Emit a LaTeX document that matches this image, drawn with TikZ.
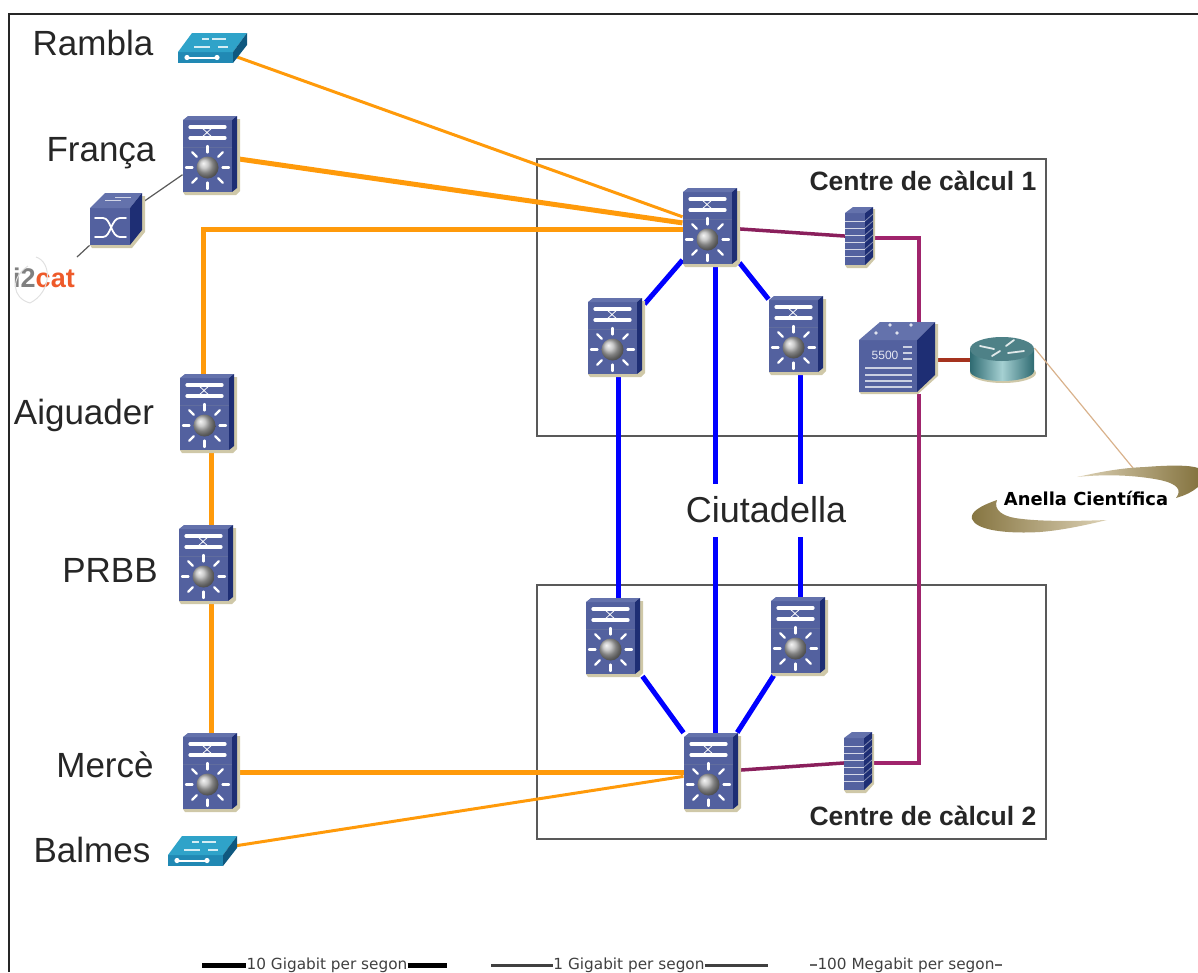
\documentclass[tikz,border=0pt]{standalone}
\usepackage{fontspec}
\setmainfont{Liberation Sans}
\newfontfamily\legendfont{DejaVu Sans}
\usetikzlibrary{positioning,backgrounds,calc}
\definecolor{chassis}{HTML}{53619F}
\definecolor{chassistop}{HTML}{6472AC}
\definecolor{chassisside}{HTML}{1E2E74}
\definecolor{dropshadow}{HTML}{CFC8A8}
\definecolor{wgfront}{HTML}{2189B4}
\definecolor{wgtop}{HTML}{2FA3C9}
\definecolor{wgside}{HTML}{0F587F}
\definecolor{linkorange}{HTML}{FF9A0A}
\definecolor{linkmagenta}{HTML}{A0246C}
\definecolor{linkdark}{HTML}{8A1F5C}
\definecolor{linkred}{HTML}{A5321E}
\definecolor{catorange}{HTML}{EE5A2A}
\definecolor{routerteal}{HTML}{2F6B72}
\definecolor{routerlight}{HTML}{A5D0D2}
\definecolor{swoosh}{HTML}{857440}
\definecolor{swooshlight}{HTML}{DDD2B6}
\tikzset{
    hitbox/.style={% Invisible box that connectors attach to
        rectangle,
        inner sep=0pt,
        outer sep=0pt,
        },
    whiteline/.style={draw=white, line width=2.4pt, line cap=round},
    % Layer 3 switch
    lthree/.pic={
        \node [hitbox, minimum width=57, minimum height=79] (-n) at (0,0) {};
        \fill [dropshadow] (26,-36) -- (29,-36) -- (29,36) -- (25,40) -- (-26,40) -- (-28,37) -- (21,37) -- cycle;
        \fill [chassis] (-28,-35) rectangle (21,37);
        \fill [chassistop] (-28,-35) -- (-23,-39) -- (26,-39) -- (21,-35) -- cycle;
        \fill [chassisside] (21,-35) -- (26,-39) -- (26,33) -- (21,37) -- cycle;
        \draw [chassisside!70, line width=0.8pt] (-28,-8) -- (21,-8);
        \draw [whiteline, line width=3.2pt] (-21,-28) -- (14,-28);
        \draw [whiteline, line width=3.2pt] (-21,-17) -- (14,-17);
        \draw [white, line width=0.8pt] (-14,-28) .. controls (-4,-28) and (-4,-17) .. (6,-17);
        \draw [white, line width=0.8pt] (-14,-17) .. controls (-4,-17) and (-4,-28) .. (6,-28);
        \foreach \a in {0,45,...,315} {
            \draw [whiteline, line width=2.3pt] (-3.5,12.5) ++(\a:15) -- ++(\a:6.5);
        }
        \shade [ball color=gray!55!white] (-3.5,12.5) circle (11);
    },
    % Workgroup switch
    wgswitch/.pic={
        \node [hitbox, minimum width=69, minimum height=31] (-n) at (0,0) {};
        \fill [wgfront] (-34,4) rectangle (21,15);
        \fill [wgtop] (-34,4) -- (-20,-15) -- (35,-15) -- (21,4) -- cycle;
        \fill [wgside] (21,4) -- (35,-15) -- (35,-3) -- (21,15) -- cycle;
        \draw [white, line width=2pt] (-27,9.5) -- (7,9.5);
        \fill [white] (-25,9.5) circle (2.6) (5,9.5) circle (2.6);
        \draw [white!80!wgtop, line width=2.2pt] (-18,-1) -- (-2,-1) (0,-9) -- (14,-9);
        \draw [white!80!wgtop, line width=2.2pt] (-10,-9) -- (-3,-9) (6,-1) -- (16,-1);
    },
    % Crossbar switch
    xswitch/.pic={
        \node [hitbox, minimum width=55, minimum height=55] (-n) at (0,0) {};
        \fill [dropshadow] (25,-24) -- (28,-24) -- (28,12) -- (15,28) -- (-25,28) -- (-27,25) -- (13,25) -- cycle;
        \fill [chassis] (-27,-12) rectangle (13,25);
        \fill [chassistop] (-27,-12) -- (-12,-27) -- (25,-27) -- (13,-12) -- cycle;
        \fill [chassisside] (13,-12) -- (25,-27) -- (25,10) -- (13,25) -- cycle;
        \draw [whiteline, line width=1.8pt] (-22,-2) -- (-14,-2) .. controls (-6,-2) and (-6,17) .. (3,17) -- (9,17);
        \draw [whiteline, line width=1.8pt] (-22,17) -- (-14,17) .. controls (-6,17) and (-6,-2) .. (3,-2) -- (9,-2);
        \draw [white!70!chassistop, line width=1pt] (-12,-20) -- (4,-20) (-2,-23) -- (14,-23);
    },
    % Firewall
    firewall/.pic={
        \node [hitbox, minimum width=28, minimum height=61] (-n) at (0,0) {};
        \fill [dropshadow] (14,-28) -- (16,-28) -- (16,22) -- (8,31) -- (-12,31) -- (-14,28) -- (6,28) -- cycle;
        \fill [chassis] (-14,-24) rectangle (6,28);
        \fill [chassistop] (-14,-24) -- (-6,-30) -- (14,-30) -- (6,-24) -- cycle;
        \fill [chassisside] (6,-24) -- (14,-30) -- (14,20) -- (6,28) -- cycle;
        \foreach \y in {-16,-9,...,24} {
            \draw [white!75!chassis, line width=0.8pt] (-14,\y) -- (6,\y);
            \draw [white!45!chassisside, line width=0.8pt] (6,\y) -- (14,\y-7);
        }
    },
    % Big chassis with the model number
    bigchassis/.pic={
        \node [hitbox, minimum width=79, minimum height=71] (-n) at (0,0) {};
        \fill [dropshadow] (37,-34) -- (40,-34) -- (40,18) -- (20,36) -- (-37,36) -- (-39,34) -- (19,34) -- cycle;
        \fill [chassis] (-39,-18) rectangle (19,34);
        \fill [chassistop] (-39,-18) -- (-18,-36) -- (37,-36) -- (19,-18) -- cycle;
        \fill [chassisside] (19,-18) -- (37,-36) -- (37,17) -- (19,34) -- cycle;
        \node [font=\fontsize{12}{13}\selectfont, text=white!85!chassis, inner sep=0pt] (-model) at (-13,-3) {5500};
        \foreach \y in {10,17,23,29} {
            \draw [white!70!chassis, line width=1.1pt] (-33,\y) -- (14,\y);
        }
        \foreach \y in {-11,-5,1} {
            \draw [white!70!chassis, line width=1.1pt] (5,\y) -- (14,\y);
        }
        \fill [white!80!chassistop] (-22,-25) circle (1.8) (-8,-33) circle (1.8) (13,-33) circle (1.8) (-1,-25) circle (1.8);
    },
    % Router
    router/.pic={
        \node [hitbox, minimum width=65, minimum height=45] (-n) at (0,0) {};
        \fill [dropshadow] (1,13) ellipse [x radius=33, y radius=10];
        \shade [left color=routerteal, right color=routerteal, middle color=routerlight]
            (-32,-11) -- (-32,11) arc [start angle=180, end angle=0, x radius=32, y radius=10] -- (32,-11) -- cycle;
        \fill [routerteal!85!white] (0,-11) ellipse [x radius=32, y radius=12];
        \draw [whiteline, line width=1.8pt, white!85!routerteal] (-22,-14) -- (-8,-11) (6,-7) -- (22,-9);
        \draw [whiteline, line width=1.8pt, white!85!routerteal] (4,-14) -- (12,-20) (-10,-4) -- (-2,-9);
    },
    }

\begin{document}
\begin{tikzpicture}[ % GLOBAL CFG
    x=1pt,
    y=-1pt,
    % Styles
    placelabel/.style={% For the site names
        font=\fontsize{35}{40}\selectfont,
        text=black!85,
        inner sep=0pt,
        },
    roomlabel/.style={% For the two rooms
        font=\bfseries\fontsize{26.5}{30}\selectfont,
        text=black!85,
        inner sep=0pt,
        },
    legendtext/.style={% For the line at the bottom
        font=\legendfont\fontsize{15.3}{17}\selectfont,
        text=black!75,
        inner sep=0pt,
        },
    room/.style={% For the main boxes
        draw=black!65,
        line width=1.5pt,
        },
    tengig/.style={draw=linkorange, line width=5pt},
    onegig/.style={draw=linkorange, line width=3pt},
    bluelink/.style={draw=blue, line width=5pt},
    ringlink/.style={draw=linkmagenta, line width=4pt, line join=miter},
    ]
    \useasboundingbox (0,0) rectangle (1198,972);

    % Devices
    \pic (rambla) at (212,48) {wgswitch};
    \pic (franca) at (211,155) {lthree};
    \pic (xconn) at (117,220) {xswitch};
    \pic (aiguader) at (208,413) {lthree};
    \pic (prbb) at (207,564) {lthree};
    \pic (merce) at (211,772) {lthree};
    \pic (balmes) at (202,851) {wgswitch};

    \pic (core1) at (711,227) {lthree};
    \pic (left1) at (616,337) {lthree};
    \pic (right1) at (797,335) {lthree};
    \pic (left2) at (614,637) {lthree};
    \pic (right2) at (799,636) {lthree};
    \pic (core2) at (712,772) {lthree};
    \pic (fw1) at (859,237) {firewall};
    \pic (fw2) at (858,762) {firewall};
    \pic (big) at (898,358) {bigchassis};
    \pic (rtr) at (1002,360) {router};

    % Labels
    \node [placelabel] (lrambla) at (93,43) {Rambla};
    \node [placelabel] (lfranca) at (101,153) {França};
    \node [placelabel] (laiguader) at (84,415) {Aiguader};
    \node [placelabel] (lprbb) at (110,570) {PRBB};
    \node [placelabel] (lmerce) at (105,765) {Mercè};
    \node [placelabel] (lbalmes) at (92,850) {Balmes};
    \node [roomlabel] (lroom1) at (923,181) {Centre de càlcul 1};
    \node [roomlabel] (lroom2) at (923,816) {Centre de càlcul 2};
    \node [font=\fontsize{36}{40}\selectfont, text=black!85, fill=white, minimum width=172, minimum height=53, inner sep=0pt] (ciutadella) at (766,510) {Ciutadella};
    \node [font=\bfseries\fontsize{27}{30}\selectfont, inner sep=0pt] (i2cat) at (44,278) {\textcolor{black!50}{i2}\textcolor{catorange}{cat}};
    \node [font=\legendfont\bfseries\fontsize{17.9}{20}\selectfont, inner sep=0pt] (anella) at (1086,498) {Anella Científica};

    % Swooshes of the ring logo
    \shade [left color=swooshlight, right color=swoosh] (1077,477) .. controls (1100,472) and (1120,468) .. (1145,467) .. controls (1170,465) and (1190,465) .. (1198,468) -- (1198,487) .. controls (1192,492) and (1186,495) .. (1176,498) .. controls (1182,490) and (1178,484) .. (1160,480) .. controls (1135,475) and (1105,474) .. (1077,477) -- cycle;
    \shade [left color=swoosh, right color=swooshlight] (997,500) .. controls (980,506) and (970,512) .. (972,519) .. controls (976,530) and (1005,534) .. (1040,532) .. controls (1065,530) and (1090,524) .. (1107,520) .. controls (1080,521) and (1040,522) .. (1015,518) .. controls (1003,516) and (993,510) .. (997,500) -- cycle;

    % Faint swirl of the i2cat logo
    \draw [black!12, line width=1pt] (28,266) .. controls (10,278) and (12,298) .. (30,303);
    \draw [black!12, line width=1pt] (36,257) .. controls (52,262) and (52,292) .. (30,303);

    % Legend
    \node [legendtext] (leg10) at (327,965) {10 Gigabit per segon};
    \coordinate (leg10a) at (202,965);
    \coordinate (leg10b) at (447,965);
    \draw [line width=5pt, black] (leg10a) -- (leg10.west);
    \draw [line width=5pt, black] (leg10.east) -- (leg10b);
    \node [legendtext] (leg1) at (629,965) {1 Gigabit per segon};
    \coordinate (leg1a) at (491,965);
    \coordinate (leg1b) at (768,965);
    \draw [line width=3pt, black!75] (leg1a) -- (leg1.west);
    \draw [line width=3pt, black!75] (leg1.east) -- (leg1b);
    \node [legendtext] (leg100) at (906,965) {100 Megabit per segon};
    \coordinate (leg100a) at (810,965);
    \coordinate (leg100b) at (1002,965);
    \draw [line width=1.5pt, black!60] (leg100a) -- (leg100.west);
    \draw [line width=1.5pt, black!60] (leg100.east) -- (leg100b);

    % Connectors go under the devices
    \begin{scope}[on background layer]
        % Outer frame, top and left only
        \coordinate (frameA) at (9,972);
        \coordinate (frameB) at (9,14);
        \coordinate (frameC) at (1198,14);
        \draw [black!85, line width=2pt] (frameA) -- (frameB) -- (frameC);

        \coordinate (room1a) at (537,159);
        \coordinate (room1b) at (1046,436);
        \coordinate (room2a) at (537,585);
        \coordinate (room2b) at (1046,839);
        \draw [room] (room1a) rectangle (room1b);
        \draw [room] (room2a) rectangle (room2b);

        % Orange ring
        \coordinate (turnA) at (203,229);
        \draw [onegig] (rambla-n.center) -- (core1-n);
        \draw [tengig] (franca-n) -- (core1-n);
        \draw [tengig] (aiguader-n.north -| turnA) -- (turnA) -- (core1-n.west |- turnA);
        \draw [tengig] ([xshift=3pt]aiguader-n.south) -- ([xshift=4pt]prbb-n.north);
        \draw [tengig] ([xshift=4pt]prbb-n.south) -- (merce-n.north);
        \draw [tengig] (merce-n) -- (core2-n);
        \draw [onegig] (balmes-n.center) -- (core2-n);

        % Blue core
        \draw [bluelink] (core1-n) -- (left1-n);
        \draw [bluelink] (core1-n) -- (right1-n);
        \draw [bluelink] ([xshift=4pt]core1-n.south) -- ([xshift=3pt]core2-n.north);
        \draw [bluelink] ([xshift=2pt]left1-n.south) -- ([xshift=4pt]left2-n.north);
        \draw [bluelink] ([xshift=3pt]right1-n.south) -- ([xshift=1pt]right2-n.north);
        \draw [bluelink] (left2-n) -- (core2-n);
        \draw [bluelink] (right2-n) -- (core2-n);

        % Firewalls and the way out
        \coordinate (turnB) at (919,238);
        \coordinate (turnC) at (919,763);
        \draw [draw=linkdark, line width=3.5pt] (core1-n) -- (fw1-n);
        \draw [ringlink] (fw1-n.east |- turnB) -- (turnB) -- (turnB |- big-n.north);
        \draw [ringlink] (turnC |- big-n.south) -- (turnC) -- (fw2-n.east |- turnC);
        \draw [draw=linkdark, line width=3.5pt] (core2-n) -- (fw2-n);
        \draw [draw=linkred, line width=4pt] (big-n.east |- rtr-n) -- (rtr-n);

        % Thin links
        \coordinate (ringtop) at (1133,468);
        \draw [draw=brown!60!white, line width=1.2pt] ([yshift=12pt]rtr-n.east) -- (ringtop);
        \coordinate (stubend) at (77,257);
        \draw [draw=black!65, line width=1.2pt] (franca-n) -- (xconn-n);
        \draw [draw=black!65, line width=1.2pt] (xconn-n) -- (stubend);
    \end{scope}
\end{tikzpicture}
\end{document}
